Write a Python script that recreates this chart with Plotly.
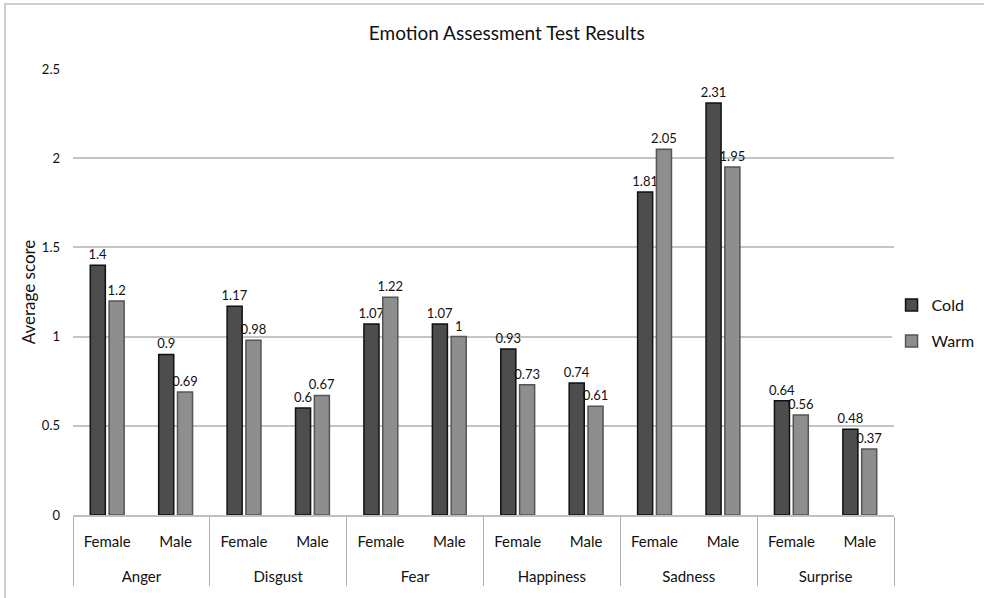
import plotly.graph_objects as go

emotions = ["Anger", "Disgust", "Fear", "Happiness", "Sadness", "Surprise"]
genders = ["Female", "Male"]
cold = [1.4, 0.9, 1.17, 0.6, 1.07, 1.07, 0.93, 0.74, 1.81, 2.31, 0.64, 0.48]
warm = [1.2, 0.69, 0.98, 0.67, 1.22, 1, 0.73, 0.61, 2.05, 1.95, 0.56, 0.37]
y_ticks = [0, 0.5, 1, 1.5, 2, 2.5]

LBL = "<span style='font-size:15px'>{}</span>"
x_outer = ["<br><br>" + LBL.format(e) for e in emotions for _ in genders]
x_inner = [LBL.format(g) for _ in emotions for g in genders]

FONT = "Lato, 'Open Sans', sans-serif"

fig = go.Figure()
fig.add_trace(go.Bar(
    name="Cold", x=[x_outer, x_inner], y=cold, legendgroup="c",
    marker=dict(color="#4d4d4d", line=dict(color="#111111", width=1.5)),
    text=[f"{v:g}" for v in cold], textposition="outside", cliponaxis=False,
    constraintext="none",
    textfont=dict(size=13, color="#111111", family=FONT),
))
fig.add_trace(go.Bar(
    name="Warm", x=[x_outer, x_inner], y=warm, legendgroup="w",
    marker=dict(color="#8e8e8e", line=dict(color="#555555", width=1.5)),
    text=[f"{v:g}" for v in warm], textposition="outside", cliponaxis=False,
    constraintext="none",
    textfont=dict(size=13, color="#111111", family=FONT),
))

fig.update_layout(
    width=984, height=598,
    margin=dict(l=73, r=90, t=69, b=83, autoexpand=False),
    paper_bgcolor="white", plot_bgcolor="white",
    font=dict(family=FONT, size=14, color="#111111"),
    title=dict(text="Emotion Assessment Test Results", x=0.515, xanchor="center",
               y=0.945, yanchor="middle", font=dict(size=19, color="#111111", family=FONT)),
    barmode="group", bargap=0.45, bargroupgap=0.2,
    legend=dict(x=0.997, y=0.43, xanchor="left", yanchor="middle",
                font=dict(size=16, color="#111111", family=FONT),
                itemwidth=30, tracegroupgap=12),
    xaxis=dict(type="multicategory", showgrid=False, showline=True, automargin=False,
               linecolor="#c0c0c0", linewidth=1.5, ticks="", ticklabelstandoff=16,
               showdividers=True, dividercolor="#b0b0b0", dividerwidth=1.2,
               tickfont=dict(size=12, color="#111111", family=FONT)),
    yaxis=dict(range=[0, 2.5], tickvals=y_ticks, ticktext=[f"{v:g}" for v in y_ticks],
               showgrid=True, gridcolor="#c4c4c4", gridwidth=2, automargin=False,
               zeroline=False, showline=False, ticks="", ticklabelstandoff=12,
               tickfont=dict(size=13, color="#111111", family=FONT),
               title=dict(text="Average score", standoff=1,
                          font=dict(size=17, color="#111111", family=FONT))),
    shapes=[dict(type="rect", xref="paper", yref="paper",
                 x0=-68 / 821, x1=1100 / 821, y0=-200 / 446, y1=(515 - 4) / 446,
                 line=dict(color="#d0d0d0", width=2), fillcolor="rgba(0,0,0,0)", layer="below")],
)

fig.write_html("out.html", config={"displayModeBar": False},
               post_script="document.body.style.margin='0';")
